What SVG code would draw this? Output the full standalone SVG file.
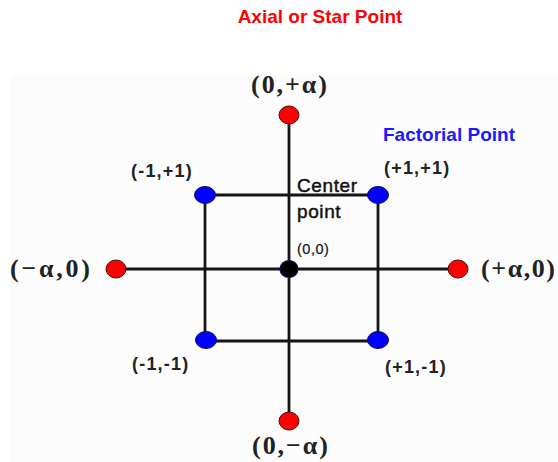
<svg xmlns="http://www.w3.org/2000/svg" width="558" height="462" viewBox="0 0 558 462">
  <style>
    .edge { stroke: #151515; stroke-width: 2.8; fill: none; }
    .axial { fill: #ff0000; stroke: #4a1010; stroke-width: 1; }
    .fact { fill: #0000ff; stroke: #101050; stroke-width: 1; }
    .ctr { fill: #000000; stroke: #101060; stroke-width: 1.2; }
    .serif { font-family: "Liberation Serif", "Times New Roman", serif; font-weight: bold; font-size: 26px; fill: #222; }
    .corner { font-family: "Liberation Sans", Arial, sans-serif; font-weight: bold; font-size: 18px; fill: #222; letter-spacing: 1.2px; }
    .head { font-family: "Liberation Sans", Arial, sans-serif; font-weight: bold; font-size: 19px; }
    .ctext { font-family: "Liberation Sans", Arial, sans-serif; font-size: 19px; fill: #111; stroke: #111; stroke-width: 0.45; letter-spacing: 0.6px; }
  </style>
  <rect x="0" y="0" width="558" height="462" fill="#ffffff"/>
  <rect x="10" y="74" width="548" height="388" fill="#fcfcfc"/>

  <text class="head" x="320" y="23" text-anchor="middle" fill="#ff0000">Axial or Star Point</text>
  <text class="head" x="383" y="141" fill="#1a1aff">Factorial Point</text>

  <g id="connectors">
    <line class="edge" x1="289" y1="115" x2="289" y2="421"/>
    <line class="edge" x1="116" y1="269" x2="458" y2="269"/>
    <line class="edge" x1="205" y1="195" x2="378" y2="195"/>
    <line class="edge" x1="205" y1="341" x2="378" y2="341"/>
    <line class="edge" x1="205" y1="195" x2="205" y2="341"/>
    <line class="edge" x1="378" y1="195" x2="378" y2="341"/>
  </g>

  <g id="axial-top">
    <ellipse class="axial" cx="289" cy="115" rx="10" ry="9"/>
    <text class="serif" x="289" y="93" text-anchor="middle" textLength="76">(0,+α)</text>
  </g>
  <g id="axial-bottom">
    <ellipse class="axial" cx="289" cy="421" rx="10" ry="9"/>
    <text class="serif" x="290" y="454" text-anchor="middle" textLength="76">(0,−α)</text>
  </g>
  <g id="axial-left">
    <ellipse class="axial" cx="116" cy="269" rx="10" ry="9"/>
    <text class="serif" x="10" y="277" textLength="80">(−α,0)</text>
  </g>
  <g id="axial-right">
    <ellipse class="axial" cx="458" cy="269" rx="10" ry="9"/>
    <text class="serif" x="481" y="277" textLength="74">(+α,0)</text>
  </g>

  <g id="factorial-m1-p1">
    <ellipse class="fact" cx="205" cy="195" rx="10.5" ry="8.5"/>
    <text class="corner" x="131" y="177">(-1,+1)</text>
  </g>
  <g id="factorial-p1-p1">
    <ellipse class="fact" cx="378" cy="195" rx="10.5" ry="8.5"/>
    <text class="corner" x="384" y="174">(+1,+1)</text>
  </g>
  <g id="factorial-m1-m1">
    <ellipse class="fact" cx="206" cy="340" rx="10.5" ry="8.5"/>
    <text class="corner" x="132" y="370">(-1,-1)</text>
  </g>
  <g id="factorial-p1-m1">
    <ellipse class="fact" cx="378" cy="340" rx="10.5" ry="8.5"/>
    <text class="corner" x="385" y="373">(+1,-1)</text>
  </g>

  <g id="center">
    <ellipse class="ctr" cx="289" cy="269" rx="9" ry="8.5"/>
    <text class="ctext" x="297" y="192">Center</text>
    <text class="ctext" x="297" y="218">point</text>
    <text x="297" y="254" font-family="Liberation Sans, Arial, sans-serif" font-size="14.5" fill="#111" stroke="#111" stroke-width="0.2" letter-spacing="0.5">(0,0)</text>
  </g>
</svg>
